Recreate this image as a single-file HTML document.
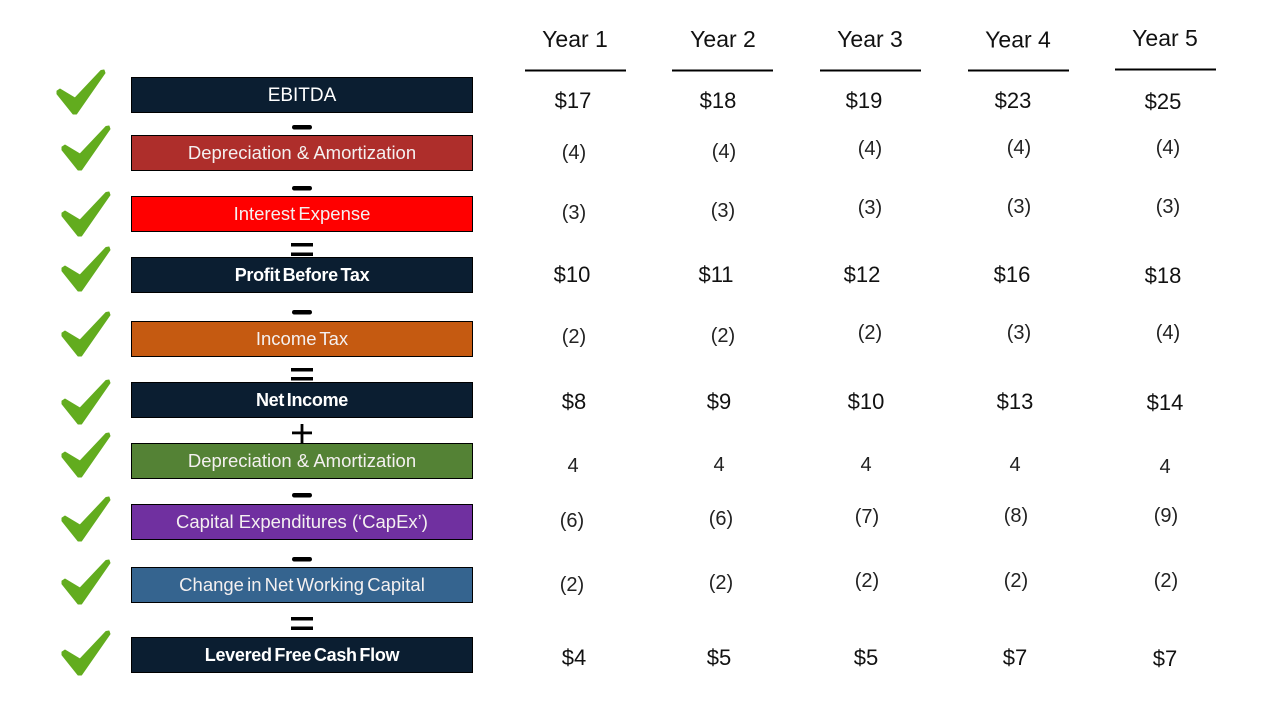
<!DOCTYPE html>
<html>
<head>
<meta charset="utf-8">
<style>
  html, body { margin: 0; padding: 0; background: #ffffff; }
  body { width: 1280px; height: 720px; overflow: hidden; }
  svg { display: block; }
  .hdr { font-family: "Liberation Sans", sans-serif; font-size: 23px; fill: #111; text-anchor: middle; }
  .d { font-family: "Liberation Sans", sans-serif; font-size: 22px; fill: #111; text-anchor: middle; }
  .p { font-family: "Liberation Sans", sans-serif; font-size: 20px; fill: #222; text-anchor: middle; }
  .bl { font-family: "Liberation Sans", sans-serif; font-size: 18.5px; fill: #f4f0f0; text-anchor: middle; }
  .bb { font-family: "Liberation Sans", sans-serif; font-size: 18px; font-weight: bold; fill: #ffffff; text-anchor: middle; letter-spacing: -0.3px; word-spacing: -2px; }
  .ck { fill: #62ac1e; stroke: #62ac1e; stroke-width: 1; stroke-linejoin: round; }
  .op { fill: #000; }
</style>
</head>
<body>
<svg width="1280" height="720" viewBox="0 0 1280 720" xmlns="http://www.w3.org/2000/svg">
  <defs>
    <path id="chk" d="M3,19 L18,28 L44,0.5 L47,0 L48,3 L19.5,44 L16,44 L0,24 L0,21 Z"/>
  </defs>

  <!-- Checkmarks -->
  <use href="#chk" class="ck" x="57" y="70"/>
  <use href="#chk" class="ck" x="62" y="126"/>
  <use href="#chk" class="ck" x="62" y="192"/>
  <use href="#chk" class="ck" x="62" y="247"/>
  <use href="#chk" class="ck" x="62" y="312"/>
  <use href="#chk" class="ck" x="62" y="380"/>
  <use href="#chk" class="ck" x="62" y="433"/>
  <use href="#chk" class="ck" x="62" y="497"/>
  <use href="#chk" class="ck" x="62" y="560"/>
  <use href="#chk" class="ck" x="62" y="631"/>

  <!-- Boxes -->
  <g stroke="#000" stroke-width="1">
    <rect x="131.5" y="77.5" width="341" height="35" fill="#0b1e31"/>
    <rect x="131.5" y="135.5" width="341" height="35" fill="#ae2e2b"/>
    <rect x="131.5" y="196.5" width="341" height="35" fill="#ff0000"/>
    <rect x="131.5" y="257.5" width="341" height="35" fill="#0b1e31"/>
    <rect x="131.5" y="321.5" width="341" height="35" fill="#c55a11"/>
    <rect x="131.5" y="382.5" width="341" height="35" fill="#0b1e31"/>
    <rect x="131.5" y="443.5" width="341" height="35" fill="#548235"/>
    <rect x="131.5" y="504.5" width="341" height="35" fill="#7030a0"/>
    <rect x="131.5" y="567.5" width="341" height="35" fill="#35648f"/>
    <rect x="131.5" y="637.5" width="341" height="35" fill="#0b1e31"/>
  </g>

  <!-- Box labels -->
  <text class="bl" x="302" y="101" style="font-size:19px;fill:#fff">EBITDA</text>
  <text class="bl" x="302" y="159">Depreciation &amp; Amortization</text>
  <text class="bl" x="302" y="220" style="word-spacing:-2px">Interest Expense</text>
  <text class="bb" x="302" y="281">Profit Before Tax</text>
  <text class="bl" x="302" y="345" style="word-spacing:-2px">Income Tax</text>
  <text class="bb" x="302" y="406">Net Income</text>
  <text class="bl" x="302" y="467">Depreciation &amp; Amortization</text>
  <text class="bl" x="302" y="528">Capital Expenditures (‘CapEx’)</text>
  <text class="bl" x="302" y="591" style="word-spacing:-2px">Change in Net Working Capital</text>
  <text class="bb" x="302" y="661">Levered Free Cash Flow</text>

  <!-- Operators -->
  <rect class="op" x="292" y="125" width="20" height="4.5" rx="2.2"/>
  <rect class="op" x="292" y="186" width="20" height="4.5" rx="2.2"/>
  <rect class="op" x="291" y="243" width="22" height="3.5"/>
  <rect class="op" x="291" y="252.5" width="22" height="3.5"/>
  <rect class="op" x="292" y="310" width="20" height="4.5" rx="2.2"/>
  <rect class="op" x="291" y="368" width="22" height="3.5"/>
  <rect class="op" x="291" y="377" width="22" height="3.5"/>
  <rect class="op" x="292" y="431.5" width="20" height="2.8"/>
  <rect class="op" x="300.6" y="424" width="2.8" height="19"/>
  <rect class="op" x="292" y="493" width="20" height="4.5" rx="2.2"/>
  <rect class="op" x="292" y="557" width="20" height="4.5" rx="2.2"/>
  <rect class="op" x="291" y="617" width="22" height="3.5"/>
  <rect class="op" x="291" y="626.5" width="22" height="3.5"/>

  <!-- Headers -->
  <text class="hdr" x="575" y="47">Year 1</text>
  <text class="hdr" x="723" y="47">Year 2</text>
  <text class="hdr" x="870" y="47">Year 3</text>
  <text class="hdr" x="1018" y="47.5">Year 4</text>
  <text class="hdr" x="1165" y="46">Year 5</text>
  <rect x="525" y="69.5" width="101" height="2" fill="#000"/>
  <rect x="672" y="69.5" width="101" height="2" fill="#000"/>
  <rect x="820" y="69.5" width="101" height="2" fill="#000"/>
  <rect x="968" y="69.5" width="101" height="2" fill="#000"/>
  <rect x="1115" y="68.5" width="101" height="2" fill="#000"/>

  <!-- Row 1 EBITDA -->
  <text class="d" x="573" y="108">$17</text>
  <text class="d" x="718" y="108">$18</text>
  <text class="d" x="864" y="108">$19</text>
  <text class="d" x="1013" y="108">$23</text>
  <text class="d" x="1163" y="109">$25</text>

  <!-- Row 2 D&A -->
  <text class="p" x="574" y="159">(4)</text>
  <text class="p" x="724" y="158">(4)</text>
  <text class="p" x="870" y="155">(4)</text>
  <text class="p" x="1019" y="154">(4)</text>
  <text class="p" x="1168" y="154">(4)</text>

  <!-- Row 3 Interest -->
  <text class="p" x="574" y="219">(3)</text>
  <text class="p" x="723" y="217">(3)</text>
  <text class="p" x="870" y="214">(3)</text>
  <text class="p" x="1019" y="213">(3)</text>
  <text class="p" x="1168" y="213">(3)</text>

  <!-- Row 4 PBT -->
  <text class="d" x="572" y="282">$10</text>
  <text class="d" x="716" y="282">$11</text>
  <text class="d" x="862" y="282">$12</text>
  <text class="d" x="1012" y="282">$16</text>
  <text class="d" x="1163" y="283">$18</text>

  <!-- Row 5 Income Tax -->
  <text class="p" x="574" y="343">(2)</text>
  <text class="p" x="723" y="342">(2)</text>
  <text class="p" x="870" y="339">(2)</text>
  <text class="p" x="1019" y="339">(3)</text>
  <text class="p" x="1168" y="339">(4)</text>

  <!-- Row 6 Net Income -->
  <text class="d" x="574" y="409">$8</text>
  <text class="d" x="719" y="409">$9</text>
  <text class="d" x="866" y="409">$10</text>
  <text class="d" x="1015" y="409">$13</text>
  <text class="d" x="1165" y="410">$14</text>

  <!-- Row 7 D&A add back -->
  <text class="p" x="573" y="472">4</text>
  <text class="p" x="719" y="471">4</text>
  <text class="p" x="866" y="471">4</text>
  <text class="p" x="1015" y="471">4</text>
  <text class="p" x="1165" y="473">4</text>

  <!-- Row 8 CapEx -->
  <text class="p" x="572" y="527">(6)</text>
  <text class="p" x="721" y="525">(6)</text>
  <text class="p" x="867" y="523">(7)</text>
  <text class="p" x="1016" y="522">(8)</text>
  <text class="p" x="1166" y="522">(9)</text>

  <!-- Row 9 NWC -->
  <text class="p" x="572" y="591">(2)</text>
  <text class="p" x="721" y="589">(2)</text>
  <text class="p" x="867" y="587">(2)</text>
  <text class="p" x="1016" y="587">(2)</text>
  <text class="p" x="1166" y="587">(2)</text>

  <!-- Row 10 LFCF -->
  <text class="d" x="574" y="665">$4</text>
  <text class="d" x="719" y="665">$5</text>
  <text class="d" x="866" y="665">$5</text>
  <text class="d" x="1015" y="665">$7</text>
  <text class="d" x="1165" y="666">$7</text>
</svg>
</body>
</html>
